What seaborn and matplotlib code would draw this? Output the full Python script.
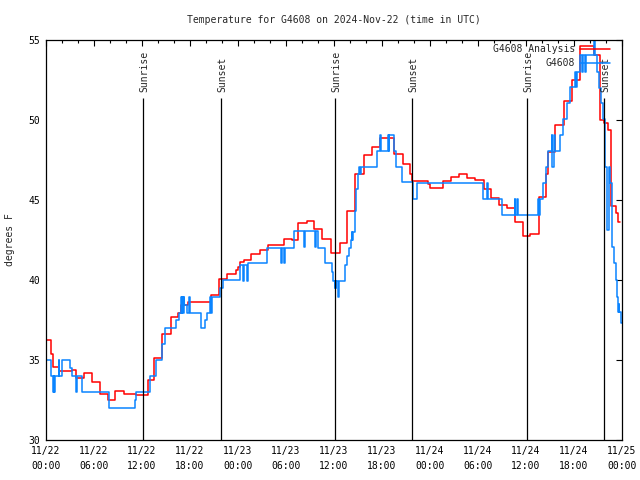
import matplotlib
matplotlib.use("Agg")
import matplotlib.pyplot as plt
import seaborn as sns
import pandas as pd

title = "Temperature for G4608 on 2024-Nov-22 (time in UTC)"
ylabel = "degrees F"
analysis_label = "G4608 Analysis"
obs_label = "G4608"

# hours since 2024-11-22 00:00 UTC, step changes
analysis_hours = [0.0, 0.66, 0.85, 1.6, 3.2, 3.7, 4.75, 5.7, 6.7, 7.7, 8.6, 9.7, 11.2, 12.7,
                  13.5, 14.5, 15.66, 16.54, 16.84, 17.79, 18.75, 20.63, 21.66, 22.66, 23.7,
                  24.0, 24.3, 24.8, 25.6, 26.7, 27.7, 29.7, 30.8, 31.5, 32.6, 33.5, 34.5, 35.6,
                  36.75, 37.6, 38.6, 39.7, 40.7, 41.75, 43.5, 44.6, 45.5, 45.75, 47.7, 48.0,
                  49.6, 50.6, 51.6, 52.6, 53.6, 54.7, 55.6, 56.6, 57.6, 58.6, 59.6, 60.5,
                  61.6, 62.5, 62.7, 63.6, 64.7, 65.7, 66.7, 68.5, 69.3, 69.7, 70.2, 70.6,
                  71.2, 71.5, 71.7]
analysis_temps = [36.25, 35.4, 34.55, 34.3, 34.4, 33.9, 34.2, 33.6, 32.9, 32.5, 33.05, 32.9, 32.8, 33.75,
                  35.1, 36.6, 37.7, 37.95, 38.45, 38.65, 38.6, 39.05, 40.05, 40.4, 40.6,
                  40.8, 41.1, 41.25, 41.65, 41.9, 42.2, 42.55, 42.5, 43.55, 43.7, 43.2, 42.55, 41.7,
                  42.3, 44.3, 46.65, 47.8, 48.3, 48.9, 47.9, 47.25, 46.6, 46.2, 46.0, 45.75,
                  46.2, 46.45, 46.6, 46.35, 46.25, 45.7, 45.15, 44.7, 44.5, 43.6, 42.75, 42.9,
                  45.2, 46.6, 48.0, 49.7, 51.2, 52.5, 54.6, 54.05, 50.0, 49.8, 49.4, 44.6,
                  44.2, 43.65, 43.65]

obs_hours = [0.0, 0.66, 0.9, 0.95, 1.05, 1.15, 1.6, 1.65, 2.0, 3.05, 3.2, 3.75, 3.82, 4.45,
             7.9, 11.1, 11.2, 13.0, 13.8, 14.46, 14.9, 16.25, 16.67, 16.875, 16.95, 17.05,
             17.15, 17.2, 17.29, 17.58, 17.92, 18.0, 19.375, 19.875, 20.08, 20.5, 20.6, 20.7,
             21.75, 22.17, 24.25, 24.67, 24.75, 25.15, 25.25, 27.58, 29.375, 29.45, 29.8,
             29.875, 31.04, 32.29, 32.35, 33.6, 33.7, 34.04, 34.875, 35.5, 35.71, 35.84,
             36.1, 36.15, 36.25, 36.3, 36.54, 36.66, 37.4, 37.67, 37.875, 38.08, 38.2, 38.3,
             38.42, 38.6, 38.75, 39.04, 39.15, 39.2, 39.33, 41.33, 41.75, 41.875, 42.79,
             42.85, 42.9, 43.5, 43.75, 44.46, 45.83, 46.33, 54.66, 55.16, 55.25, 56.96,
             58.6, 58.65, 58.85, 58.95, 61.54, 61.6, 61.7, 62.17, 62.46, 62.7, 63.2, 63.3,
             63.45, 63.55, 63.65, 64.25, 64.67, 65.08, 65.5, 66.1, 66.3, 66.4, 66.75, 67.0,
             67.1, 67.4, 67.5, 68.54, 68.6, 68.83, 69.1, 69.33, 69.58, 69.875, 70.17, 70.33,
             70.5, 70.7, 71.0, 71.25, 71.42, 71.54, 71.6, 71.65, 71.83, 71.95]
obs_temps = [35.0, 34.0, 33.0, 34.0, 33.0, 34.0, 35.0, 34.0, 35.0, 34.5, 34.0, 33.0, 34.0, 33.0,
             32.0, 32.5, 33.0, 34.0, 35.0, 36.0, 37.0, 37.5, 37.96, 38.96, 37.96, 38.96,
             37.96, 38.96, 38.44, 37.96, 38.96, 37.96, 36.98, 37.5, 37.96, 38.96, 37.96, 38.96,
             39.48, 40.0, 40.94, 39.96, 40.94, 39.96, 41.04, 42.02, 41.04, 42.02, 41.04,
             42.02, 43.06, 42.08, 43.06, 42.08, 43.06, 42.02, 41.04, 41.04, 40.52, 39.96,
             39.5, 39.96, 39.5, 39.96, 38.96, 39.96, 40.94, 41.5, 42.0, 42.5, 43.0, 42.5,
             43.0, 44.3, 45.7, 46.6, 47.05, 46.6, 47.05, 48.06, 49.06, 48.06, 49.06,
             48.06, 49.06, 48.06, 47.05, 46.1, 45.04, 46.04, 45.06, 46.04, 45.06, 44.06,
             45.06, 44.06, 45.06, 44.06, 45.04, 44.06, 45.04, 46.04, 47.04, 48.06, 49.06, 47.06,
             48.06, 49.06, 48.06, 49.06, 50.04, 51.04, 52.04, 53.02, 52.04, 53.02, 54.04, 53.02,
             54.04, 53.02, 54.04, 56.0, 54.04, 53.02, 52.02, 51.04, 50.04, 47.08, 43.1, 47.08,
             46.04, 42.08, 41.04, 40.0, 38.96, 38.02, 38.5, 38.02, 37.3, 37.3]

sun_hours = [12.125, 21.875, 36.125, 45.75, 60.125, 69.75]
sun_labels = ["Sunrise", "Sunset", "Sunrise", "Sunset", "Sunrise", "Sunset"]

xtick_hours = [0, 6, 12, 18, 24, 30, 36, 42, 48, 54, 60, 66, 72]
xtick_labels = ["11/22\n00:00", "11/22\n06:00", "11/22\n12:00", "11/22\n18:00",
                "11/23\n00:00", "11/23\n06:00", "11/23\n12:00", "11/23\n18:00",
                "11/24\n00:00", "11/24\n06:00", "11/24\n12:00", "11/24\n18:00",
                "11/25\n00:00"]
xminor_hours = [2, 4, 8, 10, 14, 16, 20, 22, 26, 28, 32, 34, 38, 40, 44, 46, 50, 52,
                56, 58, 62, 64, 68, 70]
ytick_values = [30, 35, 40, 45, 50, 55]

sns.set_style("white")
plt.rcParams['font.family'] = ['DejaVu Sans Mono']
FS = 7

fig = plt.figure(figsize=(6.4, 4.8), dpi=100)
ax = fig.add_axes([46 / 640, 40 / 480, 576 / 640, 400 / 480])

df_a = pd.DataFrame({"hour": analysis_hours, "temp": analysis_temps})
df_o = pd.DataFrame({"hour": obs_hours, "temp": obs_temps})

sns.lineplot(data=df_a, x="hour", y="temp", ax=ax, color="#ff0000", lw=1.1,
             drawstyle="steps-post", estimator=None, sort=False, label=analysis_label)
sns.lineplot(data=df_o, x="hour", y="temp", ax=ax, color="#0a84ff", lw=1.1,
             drawstyle="steps-post", estimator=None, sort=False, label=obs_label)

for h, lab in zip(sun_hours, sun_labels):
    ax.vlines(h, 30, 51.35, color="black", lw=0.9)
    ax.text(h + 0.12, 51.75, lab, rotation=90, ha="center", va="bottom", fontsize=FS)

ax.set_xlim(0, 72)
ax.set_ylim(30, 55)
ax.set_xticks(xtick_hours)
ax.set_xticklabels(xtick_labels)
ax.set_xticks(xminor_hours, minor=True)
ax.set_yticks(ytick_values)
ax.set_yticklabels([str(v) for v in ytick_values])
for lbl in ax.get_xticklabels():
    lbl.set_linespacing(1.7)
ax.tick_params(which="both", direction="in", top=True, right=True, labelsize=FS,
               width=0.8, color="black", labelcolor="black")
ax.tick_params(which="major", length=4.5)
ax.tick_params(which="minor", length=2.5)
ax.tick_params(axis="x", pad=4)
ax.tick_params(axis="y", pad=4)
for s in ax.spines.values():
    s.set_color("black")
    s.set_linewidth(0.9)

ax.set_xlabel("")
ax.set_ylabel(ylabel, fontsize=FS)
ax.yaxis.set_label_coords(-0.053, 0.5)

fig.text(334 / 640, 1 - 20 / 480, title, ha="center", va="center", fontsize=FS)

ax.legend(loc="upper right", bbox_to_anchor=(0.979, 0.99), frameon=False,
          markerfirst=False, fontsize=FS, handlelength=3.1, handletextpad=0.5,
          labelspacing=0.45, borderpad=0, borderaxespad=0)

fig.savefig("out.png", dpi=100)
